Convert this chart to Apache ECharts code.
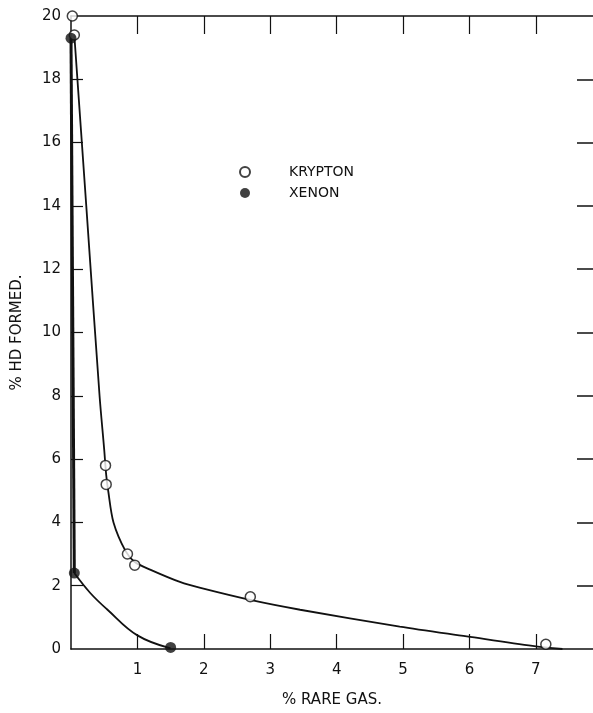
<!DOCTYPE html>
<html>
<head>
<meta charset="utf-8">
<script src="https://cdn.jsdelivr.net/npm/echarts@6/dist/echarts.min.js"></script>
<style>
  html, body { margin: 0; padding: 0; background: #fff; }
  #chart { width: 593px; height: 713px; }
</style>
</head>
<body>
<div id="chart"></div>
<script>
// measured points [% rare gas, % HD formed]
const kryptonPoints = [[0.02, 20.0], [0.05, 19.4], [0.52, 5.8], [0.53, 5.2], [0.85, 3.0], [0.96, 2.65], [2.7, 1.65], [7.15, 0.15]];
const xenonPoints = [[0.0, 19.3], [0.05, 2.4], [1.5, 0.05]];

// hand-drawn curves
const kryptonCurve = [[0.05, 19.4], [0.23, 14], [0.43, 8], [0.5, 6.3], [0.53, 5.5], [0.56, 5.0], [0.64, 4.0], [0.82, 3.1], [0.96, 2.75], [1.2, 2.5], [1.65, 2.11], [1.95, 1.93], [2.7, 1.55], [3.45, 1.24], [4.95, 0.71], [5.96, 0.4], [6.95, 0.1], [7.4, 0]];
const xenonDrop = [[0.0, 19.3], [0.05, 2.4]];
const xenonCurve = [[0.05, 2.4], [0.29, 1.77], [0.55, 1.24], [1.0, 0.43], [1.5, 0.02]];

const xTicks = [1, 2, 3, 4, 5, 6, 7];
const yTicks = [0, 2, 4, 6, 8, 10, 12, 14, 16, 18, 20];
const yInnerTicks = [2, 4, 6, 8, 10, 12, 14, 16, 18];

const font = 'DejaVu Sans';
const ink = '#111';

const chart = echarts.init(document.getElementById('chart'));

chart.setOption({
    backgroundColor: '#fff',
    animation: false,
    grid: { left: 71, right: 0, top: 16, bottom: 53 },
    legend: {
        orient: 'vertical',
        left: 234,
        top: 160,
        itemGap: 7,
        itemWidth: 10,
        itemHeight: 10,
        data: ['KRYPTON', 'XENON'],
        textStyle: { fontFamily: font, fontSize: 14, color: ink, padding: [0, 0, 0, 34] }
    },
    xAxis: [{
        type: 'value',
        min: 0,
        max: 7.86,
        interval: 1,
        name: '% RARE GAS.',
        nameLocation: 'middle',
        nameGap: 44,
        nameTextStyle: { fontFamily: font, fontSize: 15, color: ink },
        axisLine: { onZero: false, lineStyle: { color: ink, width: 1.5 } },
        axisTick: { inside: true, length: 15, customValues: xTicks, lineStyle: { color: ink, width: 1.2 } },
        axisLabel: {
            fontFamily: font, fontSize: 15, color: ink, margin: 14,
            customValues: xTicks
        },
        splitLine: { show: false }
    }, {
        type: 'value',
        position: 'top',
        min: 0,
        max: 7.86,
        interval: 1,
        axisLine: { show: true, onZero: false, lineStyle: { color: ink, width: 1.5 } },
        axisTick: { inside: true, length: 18, customValues: xTicks, lineStyle: { color: ink, width: 1.2 } },
        axisLabel: { show: false },
        splitLine: { show: false }
    }],
    yAxis: [{
        type: 'value',
        min: 0,
        max: 20,
        interval: 2,
        name: '% HD FORMED.',
        nameLocation: 'middle',
        nameGap: 46,
        nameRotate: 90,
        nameTextStyle: { fontFamily: font, fontSize: 15, color: ink },
        axisLine: { onZero: false, lineStyle: { color: ink, width: 1.5 } },
        axisTick: { inside: true, length: 12, customValues: yInnerTicks, lineStyle: { color: ink, width: 1.2 } },
        axisLabel: {
            fontFamily: font, fontSize: 15, color: ink, margin: 10,
            customValues: yTicks
        },
        splitLine: { show: false }
    }, {
        type: 'value',
        position: 'right',
        min: 0,
        max: 20,
        interval: 2,
        axisLine: { show: false, onZero: false },
        axisTick: { show: true, inside: true, length: 16, customValues: yInnerTicks, lineStyle: { color: ink, width: 1.5 } },
        axisLabel: { show: false },
        splitLine: { show: false }
    }],
    series: [
        {
            name: 'kryptonCurve', type: 'line', data: kryptonCurve, smooth: 0.3,
            showSymbol: false, lineStyle: { color: ink, width: 1.8 }, z: 2
        },
        {
            name: 'xenonDrop', type: 'line', data: xenonDrop,
            showSymbol: false, lineStyle: { color: ink, width: 3 }, z: 2
        },
        {
            name: 'xenonCurve', type: 'line', data: xenonCurve, smooth: 0.4,
            showSymbol: false, lineStyle: { color: ink, width: 1.8 }, z: 2
        },
        {
            name: 'KRYPTON', type: 'scatter', data: kryptonPoints,
            symbol: 'circle', symbolSize: 10,
            itemStyle: { color: '#fff', borderColor: ink, borderWidth: 1.5 }, z: 3
        },
        {
            name: 'XENON', type: 'scatter', data: xenonPoints,
            symbol: 'circle', symbolSize: 11,
            itemStyle: { color: ink }, z: 4
        }
    ]
});
</script>
</body>
</html>
